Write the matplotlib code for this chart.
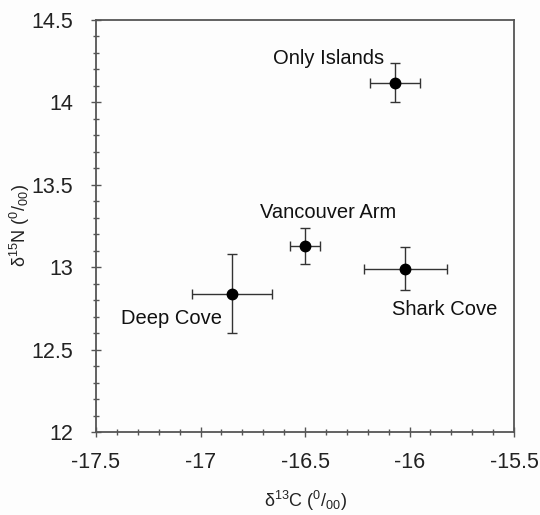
import numpy as np
import matplotlib.pyplot as plt
from matplotlib.ticker import MultipleLocator

plt.rcParams['font.family'] = ['Liberation Sans', 'DejaVu Sans']
plt.rcParams['mathtext.fontset'] = 'custom'
plt.rcParams['mathtext.rm'] = 'Liberation Sans'
plt.rcParams['mathtext.it'] = 'Liberation Sans'

# Data
sites = ["Only Islands", "Vancouver Arm", "Shark Cove", "Deep Cove"]
d13c = [-16.07, -16.50, -16.02, -16.85]
d13c_err = [0.12, 0.07, 0.20, 0.19]
d15n = [14.12, 13.13, 12.99, 12.84]
d15n_err = [0.12, 0.11, 0.13, 0.24]

# label offsets in pixels from each point
offsets = [(-66, 24), (23, 33), (39, -41), (-60, -25)]

axcol = "#555555"
fig = plt.figure(figsize=(5.4, 5.15), dpi=100)
fig.patch.set_facecolor("#fdfdfd")
ax = fig.add_axes([96/540, 83/515, 418/540, 412/515])
ax.set_facecolor("#fdfdfd")

ax.errorbar(d13c, d15n, xerr=d13c_err, yerr=d15n_err, fmt="o", color="black",
            ecolor="#333333", elinewidth=1.0, capsize=3.5, capthick=1.0,
            markersize=7.5)

for name, x, y, off in zip(sites, d13c, d15n, offsets):
    ax.annotate(name, (x, y), xytext=off, textcoords="offset pixels",
                ha="center", va="center", fontsize=14.5, color="#111111")

ax.set_xlim(-17.5, -15.5)
ax.set_ylim(12, 14.5)
ax.xaxis.set_minor_locator(MultipleLocator(0.1))
ax.yaxis.set_minor_locator(MultipleLocator(0.1))
ax.set_xticks(np.arange(-17.5, -15.4, 0.5))
ax.set_xticklabels(["-17.5", "-17", "-16.5", "-16", "-15.5"])
ax.set_yticks(np.arange(12, 14.6, 0.5))
ax.set_yticklabels(["12", "12.5", "13", "13.5", "14", "14.5"])

ax.tick_params(which="both", direction="inout", color=axcol, width=1.0,
               labelsize=15.5, labelcolor="#222222")
ax.tick_params(which="major", length=7)
ax.tick_params(which="minor", length=5)
ax.tick_params(axis="x", pad=11)
ax.tick_params(axis="y", pad=13)
for s in ax.spines.values():
    s.set_color(axcol)
    s.set_linewidth(1.3)

ax.set_xlabel("δ$^{13}$C ($^{0}$/$_{00}$)", fontsize=13, color="#222222", va="center")
ax.set_ylabel("δ$^{15}$N ($^{0}$/$_{00}$)", fontsize=13, color="#222222", va="center")
ax.xaxis.set_label_coords(0.5, -0.168)
ax.yaxis.set_label_coords(-0.182, 0.5)

fig.savefig("out.png", dpi=100, facecolor=fig.get_facecolor())
